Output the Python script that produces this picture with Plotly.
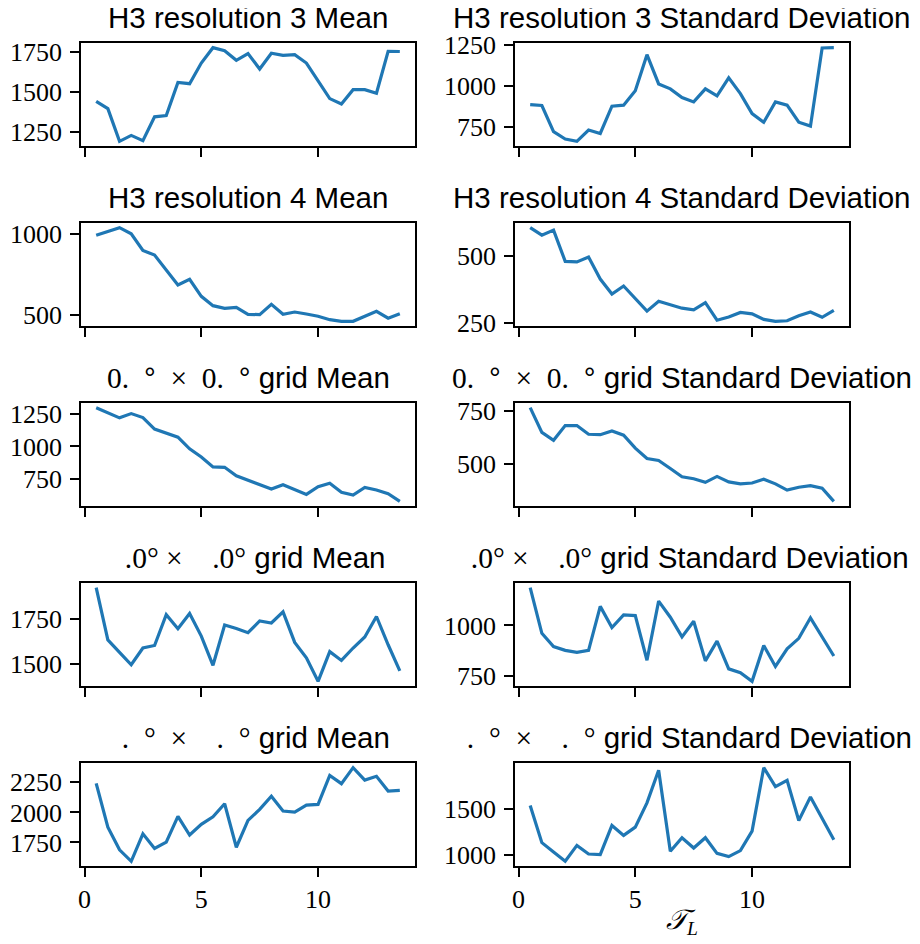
import plotly.graph_objects as go

tau = [0.5, 1.0, 1.5, 2.0, 2.5, 3.0, 3.5, 4.0, 4.5, 5.0, 5.5, 6.0, 6.5, 7.0,
       7.5, 8.0, 8.5, 9.0, 9.5, 10.0, 10.5, 11.0, 11.5, 12.0, 12.5, 13.0, 13.5]

h3r3_mean = [1444, 1398, 1194, 1231, 1198, 1347, 1355, 1562, 1554, 1683, 1779, 1760, 1700, 1742,
             1646, 1744, 1731, 1735, 1683, 1570, 1461, 1427, 1517, 1517, 1494, 1756, 1755]
h3r3_std = [886, 880, 720, 675, 661, 730, 709, 876, 882, 970, 1191, 1012, 982, 929,
            902, 982, 939, 1049, 953, 831, 778, 902, 882, 778, 754, 1232, 1234]
h3r4_mean = [990, 1016, 1037, 1000, 898, 869, 780, 686, 720, 616, 559, 543, 549, 506,
             504, 567, 506, 520, 508, 494, 473, 463, 463, 494, 524, 482, 510]
h3r4_std = [606, 578, 597, 480, 478, 496, 414, 358, 388, 340, 294, 331, 319, 305,
            299, 326, 260, 272, 289, 284, 263, 256, 258, 277, 291, 271, 297]
g05_mean = [1301, 1263, 1222, 1255, 1224, 1135, 1103, 1072, 982, 918, 841, 838, 772, 738,
            708, 669, 703, 667, 628, 687, 715, 644, 623, 682, 662, 633, 574]
g05_std = [765, 649, 612, 681, 681, 640, 638, 656, 636, 575, 526, 517, 479, 440,
           431, 414, 442, 416, 407, 411, 429, 407, 378, 391, 399, 387, 325]
g10_mean = [1924, 1634, 1565, 1496, 1589, 1603, 1774, 1696, 1781, 1655, 1493, 1717, 1697, 1674,
            1739, 1728, 1790, 1620, 1534, 1404, 1569, 1520, 1589, 1650, 1764, 1607, 1462]
g10_std = [1188, 961, 895, 876, 866, 876, 1095, 990, 1052, 1049, 827, 1121, 1041, 943,
           1021, 824, 922, 784, 765, 722, 900, 796, 884, 936, 1038, 944, 848]
g15_mean = [2242, 1877, 1689, 1593, 1822, 1700, 1753, 1967, 1812, 1901, 1964, 2072, 1710, 1934,
            2025, 2135, 2011, 2003, 2061, 2066, 2308, 2239, 2372, 2269, 2300, 2178, 2184]
g15_std = [1532, 1135, 1035, 936, 1106, 1014, 1007, 1319, 1213, 1301, 1560, 1908, 1043, 1188,
           1078, 1188, 1021, 986, 1050, 1259, 1936, 1734, 1801, 1372, 1624, 1401, 1167]

series = [h3r3_mean, h3r3_std, h3r4_mean, h3r4_std, g05_mean, g05_std,
          g10_mean, g10_std, g15_mean, g15_std]

yticks = [[1250, 1500, 1750], [750, 1000, 1250], [500, 1000], [250, 500],
          [750, 1000, 1250], [500, 750], [1500, 1750], [750, 1000],
          [1750, 2000, 2250], [1000, 1500]]

xticks = [0, 5, 10]

SER = "font-family:Liberation Serif"
FS = "\u2007"
NB = "\u00a0"
row_prefix = [
    "H3 resolution 3",
    "H3 resolution 4",
    f'<span style="{SER}">0.{FS}</span>°<span style="{SER}">{NB}{NB}×{NB}{NB}0.{FS}</span>°{NB}grid',
    f'<span style="{SER}">{FS}.0°{NB}×{NB}{NB}{FS}.0°</span>{NB}grid',
    f'<span style="{SER}">{FS}.{FS}°{NB}{NB}×{NB}{NB}{FS}.{FS}°</span>{NB}grid',
]
col_suffix = ["Mean", "Standard Deviation"]

# page has an 8px body margin; the figure is placed at (8, 8) on the page
OFF = 8
W, H = 920 - OFF, 944 - OFF
col_x = [(81, 415), (515, 849)]
row_top0, row_h, row_step = 43, 103, 180


def px(xp):
    return (xp - OFF) / W


def py(yp):
    return 1 - (yp - OFF) / H


fig = go.Figure()
layout = dict(width=W, height=H, margin=dict(l=0, r=0, t=0, b=0, autoexpand=False),
              paper_bgcolor="white", plot_bgcolor="white", showlegend=False)
annotations = []

for k, ys in enumerate(series):
    r, c = divmod(k, 2)
    idx = k + 1
    xa = "x" if idx == 1 else f"x{idx}"
    ya = "y" if idx == 1 else f"y{idx}"
    fig.add_trace(go.Scatter(x=tau, y=ys, mode="lines", xaxis=xa, yaxis=ya,
                             line=dict(color="#1f77b4", width=3.2)))
    x0, x1 = col_x[c]
    top = row_top0 + r * row_step
    bot = top + row_h
    lo, hi = min(ys), max(ys)
    pad = 0.05 * (hi - lo)
    xmin, xmax = min(tau), max(tau)
    xpad = 0.05 * (xmax - xmin)
    common = dict(showline=True, linecolor="black", linewidth=1.5, mirror=True,
                  ticks="outside", ticklen=9, tickwidth=1.5, tickcolor="black",
                  showgrid=False, zeroline=False, automargin=False,
                  tickfont=dict(family="Liberation Serif", size=26, color="black"))
    layout["xaxis" if idx == 1 else f"xaxis{idx}"] = dict(
        domain=[px(x0), px(x1)], anchor=ya, range=[xmin - xpad, xmax + xpad],
        tickmode="array", tickvals=xticks, ticktext=[str(v) for v in xticks],
        showticklabels=(r == 4), **common)
    layout["yaxis" if idx == 1 else f"yaxis{idx}"] = dict(
        domain=[py(bot), py(top)], anchor=xa, range=[lo - pad, hi + pad],
        tickmode="array", tickvals=yticks[k], ticktext=[str(v) for v in yticks[k]],
        ticklabelstandoff=3, **common)
    annotations.append(dict(
        text=f"{row_prefix[r]} {col_suffix[c]}", xref="paper", yref="paper",
        x=px((x0 + x1) / 2), y=py(top - 7), xanchor="center", yanchor="bottom",
        showarrow=False, font=dict(family="Liberation Sans", size=29.5, color="black")))

annotations.append(dict(
    text="<i>𝒯</i><sub><i>L</i></sub>", xref="paper", yref="paper",
    x=px(682), y=py(921), xanchor="center", yanchor="middle", showarrow=False,
    font=dict(family="Liberation Serif", size=28, color="black")))

layout["annotations"] = annotations
fig.update_layout(**layout)
fig.write_html("out.html")
